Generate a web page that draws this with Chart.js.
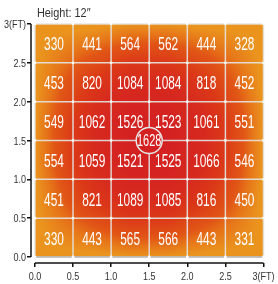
<!DOCTYPE html>
<html>
<head>
<meta charset="utf-8">
<script src="https://cdn.jsdelivr.net/npm/chart.js@4.4.0/dist/chart.umd.min.js"></script>
<style>
  html, body { margin: 0; padding: 0; background: #fff; overflow: hidden; }
  #caja { width: 278px; height: 284px; position: relative; }
</style>
</head>
<body>
<div id="caja"><canvas id="graficoMapa"></canvas></div>
<script>
// centros de las celdas (pies)
const xCentros = [0.25, 0.75, 1.25, 1.75, 2.25, 2.75];
const yCentros = [2.75, 2.25, 1.75, 1.25, 0.75, 0.25];

// valores por fila, de arriba hacia abajo
const fila1 = [330, 441, 564, 562, 444, 328];
const fila2 = [453, 820, 1084, 1084, 818, 452];
const fila3 = [549, 1062, 1526, 1523, 1061, 551];
const fila4 = [554, 1059, 1521, 1525, 1066, 546];
const fila5 = [451, 821, 1089, 1085, 816, 450];
const fila6 = [330, 443, 565, 566, 443, 331];

// punto central
const centroX = [1.5];
const centroY = [1.5];
const centroValor = [1628];

const ticksPies = [0, 0.5, 1, 1.5, 2, 2.5, 3];
const titulo = 'Height: 12\u2033';

const filas = [fila1, fila2, fila3, fila4, fila5, fila6];
const fuente = "'Liberation Sans', Arial, sans-serif";

// escala de color valor -> rgb
const paleta = [
  [300, [234, 148, 30]],
  [450, [230, 116, 25]],
  [560, [225, 86, 22]],
  [820, [219, 56, 24]],
  [1080, [215, 42, 30]],
  [1530, [211, 33, 34]],
  [1700, [210, 30, 34]]
];

function colorDe(v) {
  if (v <= paleta[0][0]) return paleta[0][1];
  for (let i = 1; i < paleta.length; i++) {
    if (v <= paleta[i][0]) {
      const a = paleta[i - 1], b = paleta[i];
      const t = (v - a[0]) / (b[0] - a[0]);
      return [0, 1, 2].map(k => a[1][k] + (b[1][k] - a[1][k]) * t);
    }
  }
  return paleta[paleta.length - 1][1];
}

// interpolacion bilineal entre centros (se extrapola hacia los bordes)
function valorEn(vx, vy) {
  const gx = (vx - xCentros[0]) / (xCentros[1] - xCentros[0]);
  const gy = (vy - yCentros[0]) / (yCentros[1] - yCentros[0]);
  const i0 = Math.min(Math.max(Math.floor(gx), 0), xCentros.length - 2);
  const j0 = Math.min(Math.max(Math.floor(gy), 0), yCentros.length - 2);
  const tx = gx - i0, ty = gy - j0;
  const a = filas[j0][i0], b = filas[j0][i0 + 1];
  const c = filas[j0 + 1][i0], d = filas[j0 + 1][i0 + 1];
  return (a * (1 - tx) + b * tx) * (1 - ty) + (c * (1 - tx) + d * tx) * ty;
}

// texto estrecho (escala horizontal)
function textoEstrecho(ctx, s, x, y, size, esc, align, color) {
  ctx.save();
  ctx.font = size + 'px ' + fuente;
  ctx.translate(x, y);
  ctx.scale(esc, 1);
  ctx.textAlign = align;
  ctx.textBaseline = 'alphabetic';
  ctx.fillStyle = color;
  ctx.fillText(s, 0, 0);
  ctx.restore();
}

function valorCelda(ctx, s, cx, cy, size, anchoCar) {
  ctx.save();
  ctx.font = size + 'px ' + fuente;
  const esc = (anchoCar * s.length) / ctx.measureText(s).width;
  ctx.restore();
  textoEstrecho(ctx, s, cx, cy + size * 0.37, size, esc, 'center', '#fff');
}

function etiqueta(v) {
  return v === 3 ? '3(FT)' : v.toFixed(1);
}

const pluginMapa = {
  id: 'mapa',
  beforeDatasetsDraw(chart) {
    const { ctx, scales: { x, y } } = chart;
    const x0 = Math.round(x.getPixelForValue(0)), x1 = Math.round(x.getPixelForValue(3));
    const y0 = Math.round(y.getPixelForValue(3)), y1 = Math.round(y.getPixelForValue(0));
    const w = x1 - x0, h = y1 - y0;

    const off = document.createElement('canvas');
    off.width = w; off.height = h;
    const octx = off.getContext('2d');
    const img = octx.createImageData(w, h);
    for (let j = 0; j < h; j++) {
      const vy = y.getValueForPixel(y0 + j + 0.5);
      for (let i = 0; i < w; i++) {
        const vx = x.getValueForPixel(x0 + i + 0.5);
        const c = colorDe(valorEn(vx, vy));
        const k = (j * w + i) * 4;
        img.data[k] = c[0]; img.data[k + 1] = c[1]; img.data[k + 2] = c[2]; img.data[k + 3] = 255;
      }
    }
    octx.putImageData(img, 0, 0);
    ctx.drawImage(off, x0, y0);

    // lineas de la rejilla
    ctx.save();
    ctx.strokeStyle = 'rgba(228,228,228,0.9)';
    ctx.lineWidth = 1.5;
    ticksPies.forEach(t => {
      const px = x.getPixelForValue(t);
      const py = y.getPixelForValue(t);
      ctx.beginPath(); ctx.moveTo(px, y0); ctx.lineTo(px, y1); ctx.stroke();
      ctx.beginPath(); ctx.moveTo(x0, py); ctx.lineTo(x1, py); ctx.stroke();
    });
    // sombra del borde inferior
    ctx.strokeStyle = 'rgba(175,175,175,0.9)';
    ctx.beginPath(); ctx.moveTo(x0, y1); ctx.lineTo(x1, y1); ctx.stroke();
    ctx.fillStyle = '#fff';
    ticksPies.forEach(tx => ticksPies.forEach(ty => {
      ctx.beginPath();
      ctx.arc(x.getPixelForValue(tx), y.getPixelForValue(ty), 1.4, 0, Math.PI * 2);
      ctx.fill();
    }));
    ctx.restore();

    // valores de cada celda
    filas.forEach((fila, r) => fila.forEach((v, c) => {
      valorCelda(ctx, String(v), x.getPixelForValue(xCentros[c]), y.getPixelForValue(yCentros[r]), 19, 6.6);
    }));
  },
  afterDatasetsDraw(chart) {
    const { ctx, chartArea, scales: { x, y } } = chart;
    centroValor.forEach((v, i) => {
      valorCelda(ctx, String(v), x.getPixelForValue(centroX[i]), y.getPixelForValue(centroY[i]), 16, 6.1);
    });

    // ejes
    ctx.save();
    ctx.strokeStyle = '#111';
    ctx.lineWidth = 1.5;
    ctx.beginPath();
    ctx.moveTo(chartArea.left, y.getPixelForValue(3));
    ctx.lineTo(chartArea.left, y.getPixelForValue(0));
    ctx.stroke();
    ctx.beginPath();
    ctx.moveTo(x.getPixelForValue(0), chartArea.bottom);
    ctx.lineTo(x.getPixelForValue(3), chartArea.bottom);
    ctx.stroke();
    ctx.restore();

    // etiquetas de los ejes
    x.ticks.forEach(t => {
      textoEstrecho(ctx, etiqueta(t.value), x.getPixelForValue(t.value), chartArea.bottom + 17, 11, 0.82, 'center', '#333');
    });
    y.ticks.forEach(t => {
      textoEstrecho(ctx, etiqueta(t.value), chartArea.left - 5, y.getPixelForValue(t.value) + 4, 11, 0.82, 'right', '#333');
    });

    // titulo
    textoEstrecho(ctx, titulo, x.getPixelForValue(0) + 2, 17, 13, 0.84, 'left', '#333');
  }
};

function ponerTicks(scale) {
  scale.ticks = ticksPies.map(v => ({ value: v }));
}

new Chart(document.getElementById('graficoMapa'), {
  type: 'scatter',
  data: {
    datasets: [{
      label: 'Centro',
      data: centroX.map((v, i) => ({ x: v, y: centroY[i] })),
      pointRadius: 13,
      pointHoverRadius: 13,
      backgroundColor: 'rgb(211,33,34)',
      borderColor: '#e4e4e4',
      borderWidth: 1.5
    }]
  },
  options: {
    responsive: true,
    maintainAspectRatio: false,
    animation: false,
    events: [],
    layout: { padding: { top: 24, right: 9, left: 0, bottom: 0 } },
    plugins: {
      legend: { display: false },
      tooltip: { enabled: false }
    },
    scales: {
      x: {
        type: 'linear',
        min: -4 / 78,
        max: 3,
        afterBuildTicks: ponerTicks,
        afterFit(scale) {
          scale.height = 21;
          scale.paddingLeft = 0; scale.paddingRight = 0;
        },
        border: { display: false },
        grid: { drawOnChartArea: false, drawTicks: true, tickLength: 4, color: '#111', lineWidth: 1.5 },
        ticks: { display: false }
      },
      y: {
        type: 'linear',
        min: -6 / 77.67,
        max: 3,
        afterBuildTicks: ponerTicks,
        afterFit(scale) {
          scale.width = 31;
          scale.paddingTop = 0; scale.paddingBottom = 0;
        },
        border: { display: false },
        grid: { drawOnChartArea: false, drawTicks: true, tickLength: 4, color: '#111', lineWidth: 1.5 },
        ticks: { display: false }
      }
    }
  },
  plugins: [pluginMapa]
});
</script>
</body>
</html>
